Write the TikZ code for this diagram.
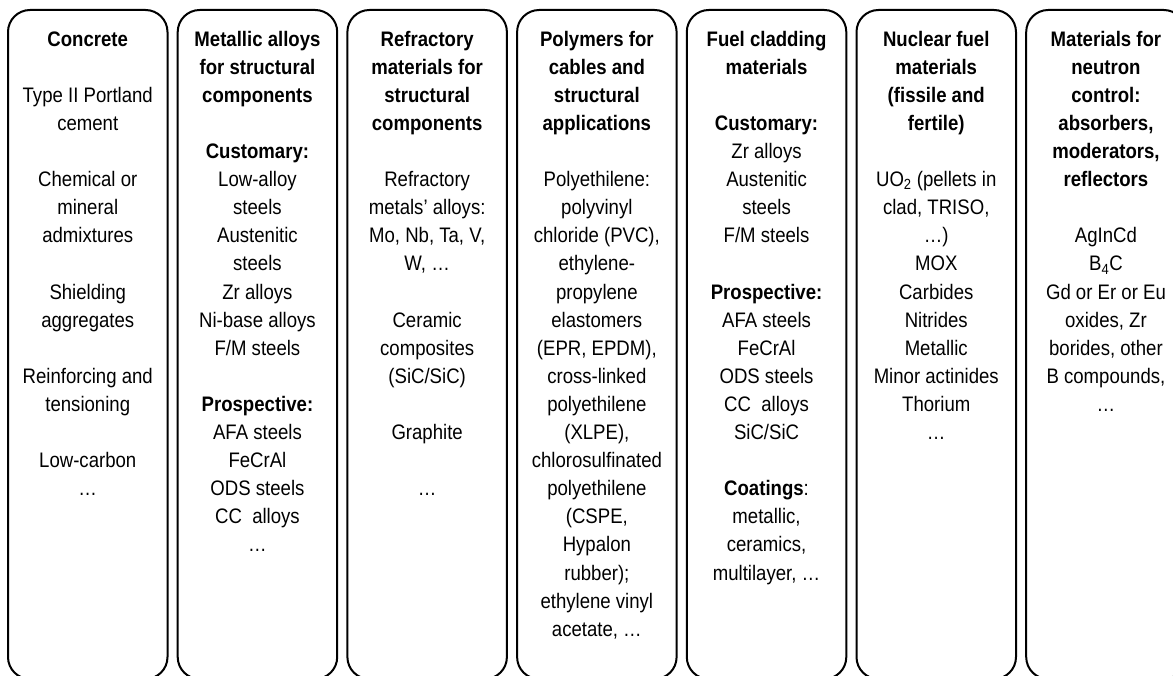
\documentclass[tikz,border=0pt]{standalone}
\usepackage{fontspec}
\setmainfont{Liberation Sans}[FakeStretch=0.885]
\begin{document}
\begin{tikzpicture}[x=1pt,y=-1pt,
  box/.style={draw, line width=2pt, rounded corners=22pt, minimum width=159.5pt, minimum height=669pt, inner sep=0pt},
  txt/.style={anchor=north, align=center, inner sep=0pt, font=\fontsize{21}{28.1}\selectfont}]
\useasboundingbox (0,0) rectangle (1173,676);
\foreach \i in {1,...,7} \node[box] (b\i) at ({87.75+169.7*(\i-1)},344.5) {};
\node[txt] (t1) at (87.75,26.3) {\strut\textbf{Concrete}\\[28.1pt]
 Type II Portland\\ cement\\[28.1pt]
 Chemical or\\ mineral\\ admixtures\\[28.1pt]
 Shielding\\ aggregates\\[28.1pt]
 Reinforcing and\\ tensioning\\[28.1pt]
 Low-carbon\\ …};
\node[txt] (t2) at (257.45,26.3) {\strut\textbf{Metallic alloys}\\ \textbf{for structural}\\ \textbf{components}\\[28.1pt]
 \textbf{Customary:}\\ Low-alloy\\ steels\\ Austenitic\\ steels\\ Zr alloys\\ Ni-base alloys\\ F/M steels\\[28.1pt]
 \textbf{Prospective:}\\ AFA steels\\ FeCrAl\\ ODS steels\\ CC\ \ alloys\\ …};
\node[txt] (t3) at (427.15,26.3) {\strut\textbf{Refractory}\\ \textbf{materials for}\\ \textbf{structural}\\ \textbf{components}\\[28.1pt]
 Refractory\\ metals’ alloys:\\ Mo, Nb, Ta, V,\\ W, …\\[28.1pt]
 Ceramic\\ composites\\ (SiC/SiC)\\[28.1pt]
 Graphite\\[28.1pt]
 …};
\node[txt] (t4) at (596.85,26.3) {\strut\textbf{Polymers for}\\ \textbf{cables and}\\ \textbf{structural}\\ \textbf{applications}\\[28.1pt]
 Polyethilene:\\ polyvinyl\\ chloride (PVC),\\ ethylene-\\ propylene\\ elastomers\\ (EPR, EPDM),\\ cross-linked\\ polyethilene\\ (XLPE),\\ chlorosulfinated\\ polyethilene\\ (CSPE,\\ Hypalon\\ rubber);\\ ethylene vinyl\\ acetate, …};
\node[txt] (t5) at (766.55,26.3) {\strut\textbf{Fuel cladding}\\ \textbf{materials}\\[28.1pt]
 \textbf{Customary:}\\ Zr alloys\\ Austenitic\\ steels\\ F/M steels\\[28.1pt]
 \textbf{Prospective:}\\ AFA steels\\ FeCrAl\\ ODS steels\\ CC\ \ alloys\\ SiC/SiC\\[28.1pt]
 \textbf{Coatings}:\\ metallic,\\ ceramics,\\ multilayer, …};
\node[txt] (t6) at (936.25,26.3) {\strut\textbf{Nuclear fuel}\\ \textbf{materials}\\ \textbf{(fissile and}\\ \textbf{fertile)}\\[28.1pt]
 UO\textsubscript{2} (pellets in\\ clad, TRISO,\\ …)\\ MOX\\ Carbides\\ Nitrides\\ Metallic\\ Minor actinides\\ Thorium\\ …};
\node[txt] (t7) at (1105.95,26.3) {\strut\textbf{Materials for}\\ \textbf{neutron}\\ \textbf{control:}\\ \textbf{absorbers,}\\ \textbf{moderators,}\\ \textbf{reflectors}\\[28.1pt]
 AgInCd\\ B\textsubscript{4}C\\ Gd or Er or Eu\\ oxides, Zr\\ borides, other\\ B compounds,\\ …};
\end{tikzpicture}
\end{document}
